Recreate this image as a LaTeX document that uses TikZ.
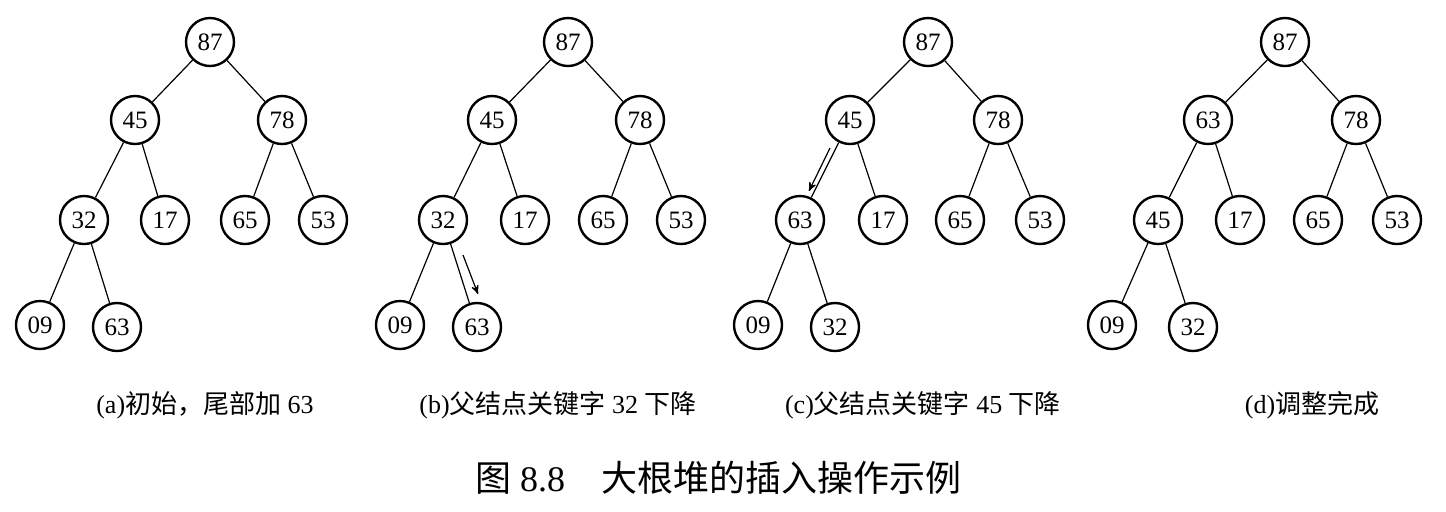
\documentclass[tikz,border=0pt]{standalone}
\usepackage{fontspec}
\setmainfont{Liberation Serif}
\newfontfamily\cjk{Noto Sans CJK SC}
\usetikzlibrary{positioning,arrows,calc}
\tikzset{
	>=stealth'
}
\begin{document}
\begin{tikzpicture}[
x = 0.5pt, y = -0.5pt,
every node/.style = {
	font = \fontsize{12.5}{14}\selectfont
},
key/.style = {
	circle,
	draw,
	very thick,
	minimum size = 24pt,
	inner sep = 0pt
},
edge/.style = {
	semithick
},
move/.style = {
	->,
	semithick
},
caption/.style = {
	font = \fontsize{13}{15}\selectfont
}
]
\useasboundingbox (0,0) rectangle (1446,511);

% (a)
\node [key] (a87) at (210,42) {87};
\node [key] (a45) at (135,120) {45};
\node [key] (a78) at (282,120) {78};
\node [key] (a32) at (84,220) {32};
\node [key] (a17) at (165,220) {17};
\node [key] (a65) at (245,220) {65};
\node [key] (a53) at (323,220) {53};
\node [key] (a09) at (40,325) {09};
\node [key] (a63) at (117,327) {63};
\draw[edge] (a87) -- (a45) (a87) -- (a78) (a45) -- (a32) (a45) -- (a17)
	(a78) -- (a65) (a78) -- (a53) (a32) -- (a09) (a32) -- (a63);
\node [caption] (capa) at (205,405) {(a){\cjk 初始，尾部加} 63};

% (b)
\node [key] (b87) at (568,42) {87};
\node [key] (b45) at (492,120) {45};
\node [key] (b78) at (640,120) {78};
\node [key] (b32) at (443,220) {32};
\node [key] (b17) at (525,220) {17};
\node [key] (b65) at (603,220) {65};
\node [key] (b53) at (681,220) {53};
\node [key] (b09) at (400,325) {09};
\node [key] (b63) at (477,327) {63};
\draw[edge] (b87) -- (b45) (b87) -- (b78) (b45) -- (b32) (b45) -- (b17)
	(b78) -- (b65) (b78) -- (b53) (b32) -- (b09) (b32) -- (b63);
\coordinate (bs) at (463,255);
\coordinate (be) at (478,294);
\draw[move] (bs) -- (be);
\node [caption] (capb) at (558,405) {(b){\cjk 父结点关键字} 32 {\cjk 下降}};

% (c)
\node [key] (c87) at (928,42) {87};
\node [key] (c45) at (850,120) {45};
\node [key] (c78) at (998,120) {78};
\node [key] (c63) at (800,220) {63};
\node [key] (c17) at (883,220) {17};
\node [key] (c65) at (960,220) {65};
\node [key] (c53) at (1040,220) {53};
\node [key] (c09) at (758,325) {09};
\node [key] (c32) at (835,327) {32};
\draw[edge] (c87) -- (c45) (c87) -- (c78) (c45) -- (c63) (c45) -- (c17)
	(c78) -- (c65) (c78) -- (c53) (c63) -- (c09) (c63) -- (c32);
\coordinate (cs) at (830,148);
\coordinate (ce) at (809,191);
\draw[move] (cs) -- (ce);
\node [caption] (capc) at (923,405) {(c){\cjk 父结点关键字} 45 {\cjk 下降}};

% (d)
\node [key] (d87) at (1285,42) {87};
\node [key] (d63) at (1208,120) {63};
\node [key] (d78) at (1356,120) {78};
\node [key] (d45) at (1158,220) {45};
\node [key] (d17) at (1240,220) {17};
\node [key] (d65) at (1318,220) {65};
\node [key] (d53) at (1397,220) {53};
\node [key] (d09) at (1112,325) {09};
\node [key] (d32) at (1193,327) {32};
\draw[edge] (d87) -- (d63) (d87) -- (d78) (d63) -- (d45) (d63) -- (d17)
	(d78) -- (d65) (d78) -- (d53) (d45) -- (d09) (d45) -- (d32);
\node [caption] (capd) at (1312,405) {(d){\cjk 调整完成}};

\node [font = \fontsize{18}{20}\selectfont] (title) at (718,478) {{\cjk 图} 8.8\quad{\cjk 大根堆的插入操作示例}};
\end{tikzpicture}
\end{document}
